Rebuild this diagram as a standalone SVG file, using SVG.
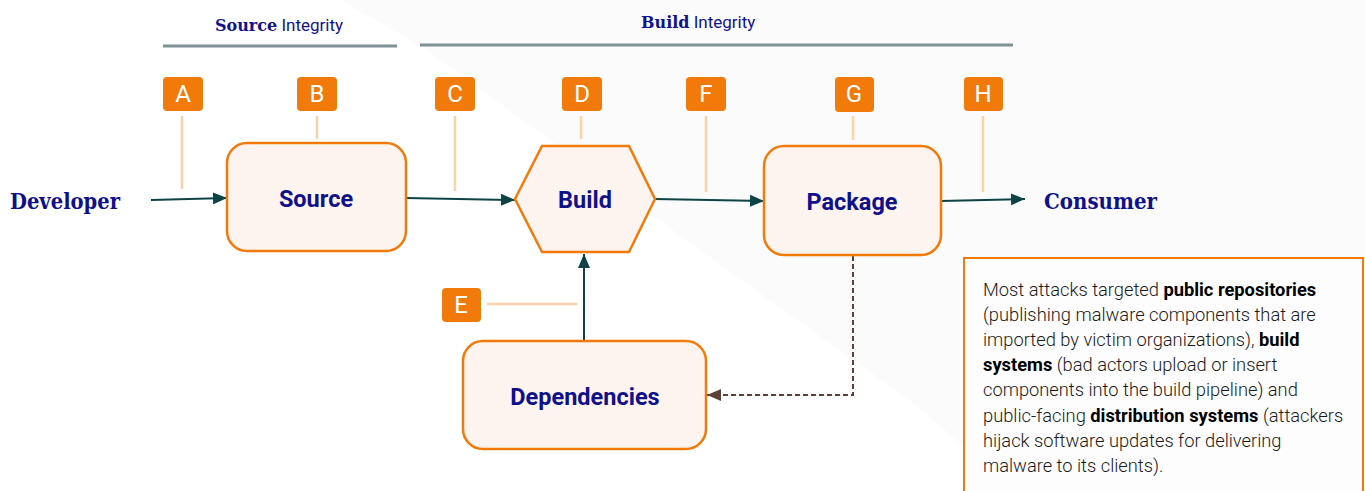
<svg xmlns="http://www.w3.org/2000/svg" width="1365" height="491" viewBox="0 0 1365 491">
  <defs>
    <marker id="arrow" viewBox="0 0 14 12" refX="14" refY="6" markerWidth="14" markerHeight="12" markerUnits="userSpaceOnUse" orient="auto">
      <path d="M0,0 L14,6 L0,12 Z" fill="#0e4346"/>
    </marker>
    <marker id="arrow-dash" viewBox="0 0 14 12" refX="14" refY="6" markerWidth="14" markerHeight="12" markerUnits="userSpaceOnUse" orient="auto">
      <path d="M0,0 L14,6 L0,12 Z" fill="#5d4037"/>
    </marker>
  </defs>
  <style>
    .band { stroke: #7e9297; stroke-width: 3; }
    .band-title { font-family: Roboto, "Liberation Sans", sans-serif; font-size: 17px; fill: #12128c; }
    .band-title .slab { font-family: "DejaVu Serif", "Liberation Serif", serif; font-weight: bold; font-size: 16px; }
    .badge rect { fill: #f27a0b; }
    .badge text { font-family: Roboto, "Liberation Sans", sans-serif; font-size: 24px; fill: #ffffff; text-anchor: middle; }
    .tick { stroke: #fdd1a8; stroke-width: 2.5; fill: none; }
    .box { fill: #fdf4ef; stroke: #f27a0b; stroke-width: 2.5; }
    .label { font-family: Roboto, "Liberation Sans", sans-serif; font-weight: bold; font-size: 23.5px; fill: #10108a; text-anchor: middle; }
    .actor { font-family: "DejaVu Serif", "Liberation Serif", serif; font-weight: bold; font-size: 23px; fill: #10108a; }
    .flow { stroke: #0e4346; stroke-width: 2; fill: none; marker-end: url(#arrow); }
    .feedback { stroke: #5d4037; stroke-width: 2; fill: none; stroke-dasharray: 5 3; marker-end: url(#arrow-dash); }
    .note-box { fill: #fdfdfd; stroke: #f27a0b; stroke-width: 2; }
    .note { font-family: Roboto, "Liberation Sans", sans-serif; font-weight: 300; font-size: 18.3px; fill: #1a1a1a; }
    .note .b { font-weight: bold; fill: #000000; }
  </style>

  <!-- page background with faint diagonal shading -->
  <rect x="0" y="0" width="1365" height="491" fill="#ffffff"/>
  <path d="M340,0 L1365,0 L1365,491 L1010,491 Q960,440 900,393 L700,250 L420,45 Z" fill="#fbfbfc"/>

  <!-- integrity bands -->
  <g id="band-source">
    <line class="band" x1="163" y1="46" x2="397" y2="46"/>
    <text class="band-title" x="215" y="31"><tspan class="slab">Source</tspan> Integrity</text>
  </g>
  <g id="band-build">
    <line class="band" x1="420" y1="45" x2="1013" y2="45"/>
    <text class="band-title" x="641" y="28"><tspan class="slab">Build</tspan> Integrity</text>
  </g>

  <!-- threat marker ticks -->
  <g id="ticks">
    <line class="tick" x1="182" y1="116" x2="182" y2="189"/>
    <line class="tick" x1="317" y1="116" x2="317" y2="139"/>
    <line class="tick" x1="455" y1="116" x2="455" y2="191"/>
    <line class="tick" x1="581" y1="116" x2="581" y2="139"/>
    <line class="tick" x1="706" y1="116" x2="706" y2="192"/>
    <line class="tick" x1="853" y1="116" x2="853" y2="140"/>
    <line class="tick" x1="983" y1="116" x2="983" y2="192"/>
    <line class="tick" x1="487" y1="304" x2="577" y2="304"/>
  </g>

  <!-- connectors -->
  <g id="connectors">
    <path class="flow" d="M151,200 L227,198"/>
    <path class="flow" d="M406,198 L515,200"/>
    <path class="flow" d="M655,199 L764,201"/>
    <path class="flow" d="M941,201 L1025,199"/>
    <path class="flow" d="M584,341 L584,254"/>
    <path class="feedback" d="M853,256 L853,395 L707,395"/>
  </g>

  <!-- actors -->
  <g id="developer"><text class="actor" x="10" y="209" textLength="110" lengthAdjust="spacingAndGlyphs">Developer</text></g>
  <g id="consumer"><text class="actor" x="1044" y="209" textLength="113" lengthAdjust="spacingAndGlyphs">Consumer</text></g>

  <!-- pipeline stages -->
  <g id="source">
    <rect class="box" x="227" y="143" width="179" height="108" rx="20"/>
    <text class="label" x="316" y="207">Source</text>
  </g>
  <g id="build">
    <polygon class="box" points="515,199 542,146 629,146 655,199 629,252 542,252"/>
    <text class="label" x="585" y="208">Build</text>
  </g>
  <g id="package">
    <rect class="box" x="764" y="146" width="177" height="109" rx="20"/>
    <text class="label" x="852" y="210">Package</text>
  </g>
  <g id="dependencies">
    <rect class="box" x="463" y="341" width="243" height="108" rx="20"/>
    <text class="label" x="585" y="405">Dependencies</text>
  </g>

  <!-- threat badges -->
  <g id="badge-a" class="badge"><rect x="163" y="77" width="40" height="34" rx="4"/><text x="183" y="102">A</text></g>
  <g id="badge-b" class="badge"><rect x="297" y="77" width="40" height="34" rx="4"/><text x="317" y="102">B</text></g>
  <g id="badge-c" class="badge"><rect x="435" y="77" width="40" height="34" rx="4"/><text x="455" y="102">C</text></g>
  <g id="badge-d" class="badge"><rect x="562" y="77" width="40" height="34" rx="4"/><text x="582" y="102">D</text></g>
  <g id="badge-e" class="badge"><rect x="442" y="288" width="39" height="34" rx="4"/><text x="461" y="313">E</text></g>
  <g id="badge-f" class="badge"><rect x="686" y="77" width="40" height="34" rx="4"/><text x="706" y="102">F</text></g>
  <g id="badge-g" class="badge"><rect x="835" y="77" width="39" height="35" rx="4"/><text x="854" y="102">G</text></g>
  <g id="badge-h" class="badge"><rect x="964" y="77" width="39" height="34" rx="4"/><text x="983" y="102">H</text></g>

  <!-- attack summary note -->
  <g id="note">
    <rect class="note-box" x="964" y="258" width="399" height="240"/>
    <text class="note">
      <tspan x="983" y="296">Most attacks targeted <tspan class="b">public repositories</tspan></tspan>
      <tspan x="983" y="321">(publishing malware components that are</tspan>
      <tspan x="983" y="346">imported by victim organizations), <tspan class="b">build</tspan></tspan>
      <tspan x="983" y="371"><tspan class="b">systems</tspan> (bad actors upload or insert</tspan>
      <tspan x="983" y="396">components into the build pipeline) and</tspan>
      <tspan x="983" y="422">public-facing <tspan class="b">distribution systems</tspan> (attackers</tspan>
      <tspan x="983" y="447">hijack software updates for delivering</tspan>
      <tspan x="983" y="472">malware to its clients).</tspan>
    </text>
  </g>
</svg>
